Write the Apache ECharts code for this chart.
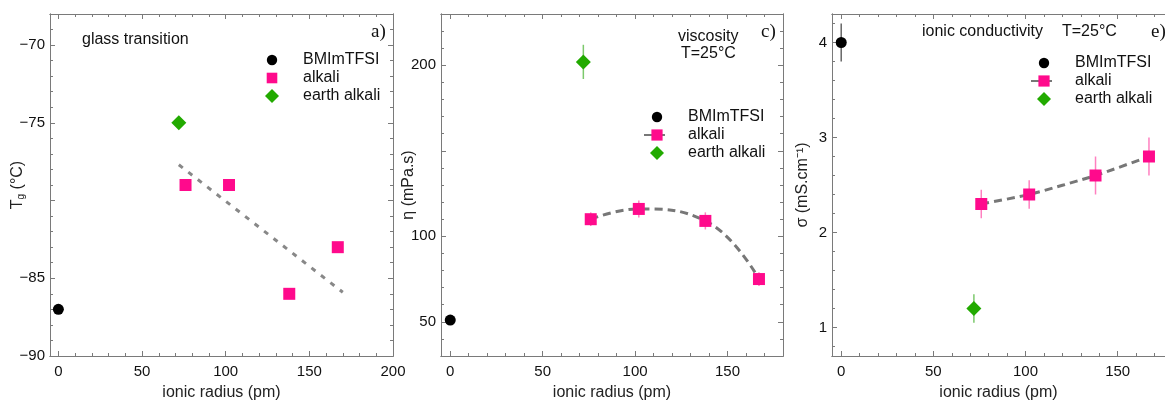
<!DOCTYPE html>
<html><head><meta charset="utf-8">
<script src="https://cdn.jsdelivr.net/npm/echarts@6/dist/echarts.min.js"></script>
<style>html,body{margin:0;padding:0;background:#fff}#c{width:1165px;height:400px}</style>
</head><body><div id="c"></div>
<script>
// ---------- data ----------
const xBMIm = [0];
const xAlkali = [76, 102, 138, 167];
const xEarth = [72];

const tgBMIm = [-87];
const tgAlkali = [-79, -79, -86, -83];
const tgEarth = [-75];
const tgFitX = [72, 170];
const tgFitY = [-77.7, -85.9];

const etaBMIm = [51];
const etaBMImErr = [2];
const etaAlkali = [110, 116, 109, 75];
const etaAlkaliErr = [4, 5, 5, 4];
const etaEarth = [202];
const etaEarthErr = [10];

const sigBMIm = [4.0];
const sigBMImErr = [0.2];
const sigAlkali = [2.3, 2.4, 2.6, 2.8];
const sigAlkaliErr = [0.15, 0.15, 0.2, 0.2];
const sigEarth = [1.2];
const sigEarthErr = [0.15];

const xLabels1 = [0, 50, 100, 150, 200];
const xLabels23 = [0, 50, 100, 150];
const tgLabels = [-90, -85, -75, -70];
const etaLabels = [50, 100, 200];
const sigLabels = [1, 2, 3, 4];

// ---------- styling ----------
const PINK = '#ff0a8c', GREEN = '#22aa00', BLACK = '#000000';
const FRAME = '#7a7a7a';
const TICK = '#7a7a7a';
const FONT = 'Liberation Sans';
// legend icons padded inside a 14x14 box (the leading moves set the box)
const ICON_CIRCLE = 'path://M-7,-7M7,7M5.2,0A5.2,5.2,0,1,1,-5.2,0A5.2,5.2,0,1,1,5.2,0Z';
const ICON_RECT = 'path://M-7,-7M7,7M-5.3,-5.3L5.3,-5.3L5.3,5.3L-5.3,5.3Z';
const ICON_DIAMOND = 'path://M0,-7L7,0L0,7L-7,0Z';

function range(a, b, step) {
  const out = [];
  for (let v = a; v <= b + 1e-9; v += step) out.push(Math.round(v * 1000) / 1000);
  return out;
}
function minorOf(majors, a, b, step, lo, hi) {
  return range(a, b, step).filter(v => !majors.some(m => Math.abs(m - v) < 1e-6) && v > lo + 1e-6 && v < hi - 1e-6);
}

const panels = [
  { left: 50, width: 343, xmin: -5, xmax: 200, ymin: -90, ymax: -68, right: true,
    xMaj: [0, 50, 100, 150, 200], xLab: xLabels1, yMaj: [-90, -85, -80, -75, -70], yLab: tgLabels,
    yMinStart: -90, yMinStep: 1, yName: 'T{s|g} (°C)', yGap: 24 },
  { left: 441, width: 342, xmin: -5, xmax: 180, ymin: 30, ymax: 230, right: true,
    xMaj: [0, 50, 100, 150], xLab: xLabels23, yMaj: [50, 100, 150, 200], yLab: etaLabels,
    yMinStart: 30, yMinStep: 10, yName: 'η (mPa.s)', yGap: 24 },
  // the third panel runs past the right edge of the picture
  { left: 832, width: 333, xmin: -5, xmax: 175.7, ymin: 0.7, ymax: 4.3, right: false,
    xMaj: [0, 50, 100, 150], xLab: xLabels23, yMaj: [1, 2, 3, 4], yLab: sigLabels,
    yMinStart: 0.8, yMinStep: 0.2, yName: 'σ (mS.cm⁻¹)', yGap: 21 }
];

const grid = [], xAxis = [], yAxis = [];
const mainX = [], mainY = [];
const fmt = v => String(v).replace('-', '\u2212');
const tickStyle = () => ({ color: TICK, width: 1 });
const lineStyle = () => ({ color: FRAME, width: 1 });

panels.forEach((p, i) => {
  const gMain = grid.length;
  grid.push({ left: p.left, top: 14, width: p.width, height: 342, outerBoundsMode: 'none' });
  const gMin = grid.length;
  grid.push({ left: p.left, top: 14, width: p.width, height: 342, outerBoundsMode: 'none' });

  const xMinor = minorOf(p.xMaj, -100, 300, 10, p.xmin, p.xmax);
  const yMinor = minorOf(p.yMaj, p.yMinStart, p.ymax, p.yMinStep, p.ymin, p.ymax);

  const axBase = (min, max) => ({ type: 'value', min, max, splitLine: { show: false } });
  mainX.push(xAxis.length);
  xAxis.push(Object.assign(axBase(p.xmin, p.xmax), {
    gridIndex: gMain, position: 'bottom',
    axisLine: { show: true, onZero: false, lineStyle: lineStyle() },
    axisTick: { show: true, inside: true, length: 5, customValues: p.xMaj, lineStyle: tickStyle() },
    axisLabel: { show: true, customValues: p.xLab, margin: 8, fontSize: 15, fontFamily: FONT, color: '#111', formatter: fmt },
    name: 'ionic radius (pm)', nameLocation: 'middle', nameGap: 29, nameMoveOverlap: false,
    nameTextStyle: { fontSize: 16, fontFamily: FONT, color: '#222' }
  }));
  xAxis.push(Object.assign(axBase(p.xmin, p.xmax), {
    gridIndex: gMain, position: 'top',
    axisLine: { show: true, onZero: false, lineStyle: lineStyle() },
    axisTick: { show: true, inside: true, length: 5, customValues: p.xMaj, lineStyle: tickStyle() },
    axisLabel: { show: false }
  }));
  ['bottom', 'top'].forEach(pos => xAxis.push(Object.assign(axBase(p.xmin, p.xmax), {
    gridIndex: gMin, position: pos,
    axisLine: { show: true, onZero: false, lineStyle: lineStyle() },
    axisTick: { show: true, inside: true, length: 3, customValues: xMinor, lineStyle: tickStyle() },
    axisLabel: { show: false }
  })));
  mainY.push(yAxis.length);
  yAxis.push(Object.assign(axBase(p.ymin, p.ymax), {
    gridIndex: gMain, position: 'left',
    axisLine: { show: true, onZero: false, lineStyle: lineStyle() },
    axisTick: { show: true, inside: true, length: 5, customValues: p.yMaj, lineStyle: tickStyle() },
    axisLabel: { show: true, customValues: p.yLab, margin: 5, fontSize: 15, fontFamily: FONT, color: '#111', formatter: fmt },
    name: p.yName, nameLocation: 'middle', nameGap: p.yGap, nameRotate: 90, nameMoveOverlap: false,
    nameTextStyle: { fontSize: 16, fontFamily: FONT, color: '#222',
      rich: { s: { fontSize: 10, fontFamily: FONT, color: '#222', verticalAlign: 'bottom', padding: [6, 0, 0, 0] } } }
  }));
  yAxis.push(Object.assign(axBase(p.ymin, p.ymax), {
    gridIndex: gMin, position: 'left',
    axisLine: { show: true, onZero: false, lineStyle: lineStyle() },
    axisTick: { show: true, inside: true, length: 3, customValues: yMinor, lineStyle: tickStyle() },
    axisLabel: { show: false }
  }));
  if (p.right) {
    yAxis.push(Object.assign(axBase(p.ymin, p.ymax), {
      gridIndex: gMain, position: 'right',
      axisLine: { show: true, onZero: false, lineStyle: lineStyle() },
      axisTick: { show: true, inside: true, length: 5, customValues: p.yMaj, lineStyle: tickStyle() },
      axisLabel: { show: false }
    }));
    yAxis.push(Object.assign(axBase(p.ymin, p.ymax), {
      gridIndex: gMin, position: 'right',
      axisLine: { show: true, onZero: false, lineStyle: lineStyle() },
      axisTick: { show: true, inside: true, length: 3, customValues: yMinor, lineStyle: tickStyle() },
      axisLabel: { show: false }
    }));
  }
});

const pts = (xs, ys) => xs.map((x, i) => [x, ys[i]]);
function scatter(name, pi, xs, ys, symbol, size, color) {
  return { type: 'scatter', name, xAxisIndex: mainX[pi], yAxisIndex: mainY[pi], data: pts(xs, ys),
    symbol, symbolSize: size, itemStyle: { color, opacity: 1 }, z: 5, silent: true };
}
function errBars(pi, xs, ys, errs, color) {
  return { type: 'custom', xAxisIndex: mainX[pi], yAxisIndex: mainY[pi], silent: true, z: 1,
    data: xs.map((x, i) => [x, ys[i] - errs[i], ys[i] + errs[i]]),
    encode: { x: 0, y: [1, 2] },
    renderItem: (params, api) => {
      const a = api.coord([api.value(0), api.value(1)]);
      const b = api.coord([api.value(0), api.value(2)]);
      return { type: 'line', shape: { x1: a[0], y1: a[1], x2: b[0], y2: b[1] }, style: { stroke: color, lineWidth: 1.5 } };
    } };
}
function alkaliLine(name, pi, xs, ys, smooth) {
  return { type: 'line', name, xAxisIndex: mainX[pi], yAxisIndex: mainY[pi], data: pts(xs, ys),
    smooth, symbol: 'rect', symbolSize: 12, showSymbol: true,
    itemStyle: { color: PINK }, lineStyle: { color: '#777', width: 3, type: [8, 5] }, z: 4, silent: true };
}

const series = [
  { type: 'line', xAxisIndex: mainX[0], yAxisIndex: mainY[0], data: pts(tgFitX, tgFitY), showSymbol: false, symbol: 'none',
    lineStyle: { color: '#888', width: 3, type: [5, 7] }, z: 2, silent: true },
  scatter('BMImTFSI|a', 0, xBMIm, tgBMIm, 'circle', 11, BLACK),
  scatter('alkali|a', 0, xAlkali, tgAlkali, 'rect', 12, PINK),
  scatter('earth alkali|a', 0, xEarth, tgEarth, 'diamond', 15, GREEN),
  errBars(1, xBMIm, etaBMIm, etaBMImErr, '#666'),
  errBars(1, xAlkali, etaAlkali, etaAlkaliErr, '#ff80c0'),
  errBars(1, xEarth, etaEarth, etaEarthErr, '#7cc96c'),
  scatter('BMImTFSI|c', 1, xBMIm, etaBMIm, 'circle', 11, BLACK),
  alkaliLine('alkali|c', 1, xAlkali, etaAlkali, 0.45),
  scatter('earth alkali|c', 1, xEarth, etaEarth, 'diamond', 15, GREEN),
  errBars(2, xBMIm, sigBMIm, sigBMImErr, '#666'),
  errBars(2, xAlkali, sigAlkali, sigAlkaliErr, '#ff80c0'),
  errBars(2, xEarth, sigEarth, sigEarthErr, '#7cc96c'),
  scatter('BMImTFSI|e', 2, xBMIm, sigBMIm, 'circle', 11, BLACK),
  alkaliLine('alkali|e', 2, xAlkali, sigAlkali, 0.2),
  scatter('earth alkali|e', 2, xEarth, sigEarth, 'diamond', 15, GREEN)
];

function legend(tag, left, top, itemWidth, padLeft, alkaliIsLine) {
  const alk = { name: 'alkali|' + tag };
  if (!alkaliIsLine) alk.icon = ICON_RECT;
  return { orient: 'vertical', left, top, itemWidth, itemHeight: 14, itemGap: 2, padding: 0, selectedMode: false,
    data: [{ name: 'BMImTFSI|' + tag, icon: ICON_CIRCLE }, alk, { name: 'earth alkali|' + tag, icon: ICON_DIAMOND }],
    formatter: n => n.split('|')[0],
    textStyle: { fontSize: 16, fontFamily: FONT, color: '#111', padding: [0, 0, 0, padLeft] } };
}

const txt = (text, x, y, opts) => ({ type: 'text', left: x, top: y, silent: true,
  style: Object.assign({ text, fontSize: 16, fontFamily: FONT, fill: '#111' }, opts || {}) });

const option = {
  animation: false,
  grid, xAxis, yAxis, series,
  legend: [
    legend('a', 265, 52, 14, 19, false),
    legend('c', 643, 109, 26, 13, true),
    legend('e', 1030, 55, 26, 13, true)
  ],
  graphic: [
    txt('glass transition', 82, 32),
    txt('a)', 371, 23, { fontFamily: 'Liberation Serif', fontSize: 19 }),
    txt('viscosity', 678, 29),
    txt('T=25°C', 681, 46),
    txt('c)', 761, 23, { fontFamily: 'Liberation Serif', fontSize: 19 }),
    txt('ionic conductivity', 922, 24),
    txt('T=25°C', 1062, 24),
    txt('e)', 1151, 23, { fontFamily: 'Liberation Serif', fontSize: 19 })
  ]
};
echarts.init(document.getElementById('c'), null, { renderer: 'canvas' }).setOption(option);
</script>
</body></html>
